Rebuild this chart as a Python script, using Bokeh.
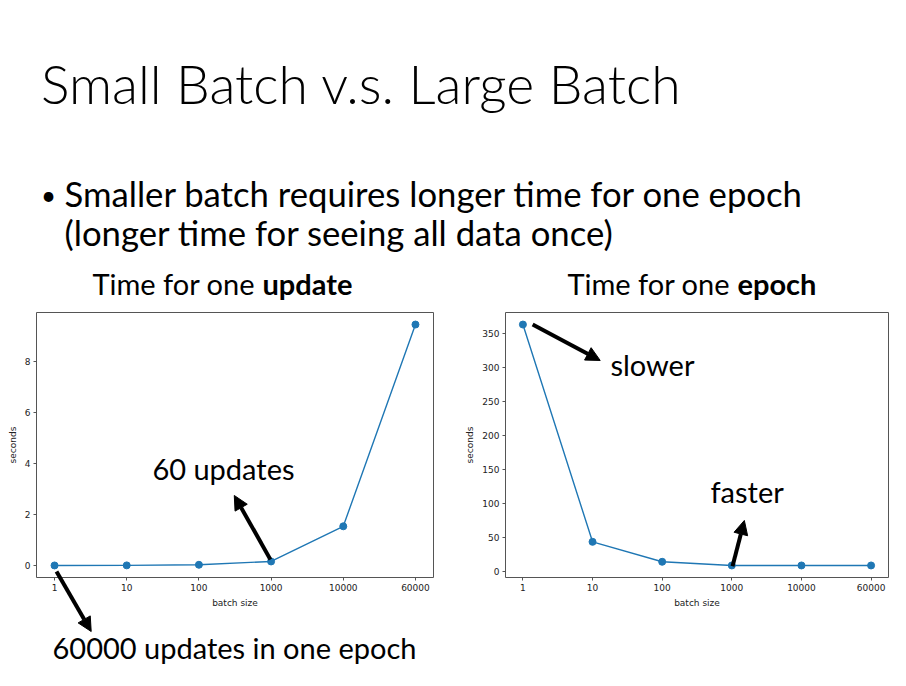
from bokeh.plotting import figure
from bokeh.models import Range1d, FixedTicker, Label, Arrow, NormalHead, GridBox
from bokeh.embed import file_html
from bokeh.resources import INLINE

# ---------------- data ----------------
title_text = "Small Batch v.s. Large Batch"
bullet_lines = ["Smaller batch requires longer time for one epoch",
                "(longer time for seeing all data once)"]
batch_sizes = ["1", "10", "100", "1000", "10000", "60000"]
update_seconds = [0.003, 0.006, 0.03, 0.16, 1.54, 9.46]
epoch_seconds = [363.7, 43.6, 14.2, 8.8, 8.8, 8.8]
update_ticks = [0, 2, 4, 6, 8]
epoch_ticks = [0, 50, 100, 150, 200, 250, 300, 350]

SLIDE_FONT = "Lato"
TICK_FONT = "DejaVu Sans"
BLUE = "#1f77b4"
FRAME = "#555555"
TXT = "#222222"
PAGE_W, PAGE_H = 906, 686
BASE_SHIFT = 0.41  # alphabetic-baseline correction (em)

# ---------------- charts ----------------
def make_chart(values, yticks, width, bl, br):
    n = len(batch_sizes)
    xs = list(range(n))
    xpad = 0.05 * (n - 1)
    lo, hi = min(values), max(values)
    ypad = 0.05 * (hi - lo)
    p = figure(width=width, height=PAGE_H,
               x_range=Range1d(-xpad, n - 1 + xpad), y_range=Range1d(lo - ypad, hi + ypad),
               output_backend="svg", toolbar_location=None,
               min_border_left=bl, min_border_right=br, min_border_top=312, min_border_bottom=109)
    p.frame_align = False
    p.grid.visible = False
    p.outline_line_color = FRAME
    p.outline_line_width = 1
    p.line(xs, values, line_color=BLUE, line_width=1.4)
    p.scatter(xs, values, size=7, fill_color=BLUE, line_color=BLUE)
    p.xaxis.ticker = FixedTicker(ticks=xs)
    p.xaxis.major_label_overrides = {i: s for i, s in enumerate(batch_sizes)}
    p.yaxis.ticker = FixedTicker(ticks=yticks)
    p.xaxis.axis_label = "batch size"
    p.yaxis.axis_label = "seconds"
    for ax in (p.xaxis[0], p.yaxis[0]):
        ax.axis_line_color = None
        ax.major_tick_in = 0
        ax.major_tick_out = 3
        ax.major_tick_line_color = FRAME
        ax.minor_tick_line_color = None
        ax.major_label_text_font = TICK_FONT
        ax.major_label_text_font_size = "9px"
        ax.major_label_text_color = TXT
        ax.axis_label_text_font = TICK_FONT
        ax.axis_label_text_font_size = "9px"
        ax.axis_label_text_font_style = "normal"
        ax.axis_label_text_color = TXT
        ax.major_label_standoff = 3
        ax.axis_label_standoff = 4
    return p

def arrow(p, x0, y0, x1, y1):
    p.add_layout(Arrow(end=NormalHead(size=14, fill_color="black", line_color="black", line_width=1),
                       x_start=x0, y_start=y0, x_end=x1, y_end=y1,
                       line_color="black", line_width=4))

def dlabel(p, x, y, text, size="29px", align="center"):
    p.add_layout(Label(x=x, y=y, text=text, text_font=SLIDE_FONT, text_font_size=size,
                       text_color="black", text_align=align, text_baseline="alphabetic"))

left = make_chart(update_seconds, update_ticks, 462, 36, 29)
right = make_chart(epoch_seconds, epoch_ticks, 444, 41, 18)

# in-frame annotations (data coordinates)
arrow(left, 2.99, 0.24, 2.49, 2.75)
dlabel(left, 2.34, 3.81, "60 updates")
arrow(right, 0.14, 363.8, 1.11, 310.8)
dlabel(right, 1.86, 304.9, "slower")
arrow(right, 3.01, 7.7, 3.18, 75.1)
dlabel(right, 3.22, 117.4, "faster")

# ---------------- transparent overlay for slide text ----------------
overlay = figure(width=PAGE_W, height=PAGE_H, x_range=Range1d(0, PAGE_W), y_range=Range1d(PAGE_H, 0),
                 output_backend="svg", toolbar_location=None, min_border=0,
                 x_axis_location=None, y_axis_location=None)
overlay.frame_align = False
overlay.grid.visible = False
overlay.outline_line_color = None
overlay.background_fill_color = None
overlay.border_fill_color = None

def olabel(x, baseline, text, fs, style="normal", align="left", font=SLIDE_FONT):
    overlay.add_layout(Label(x=x, y=baseline - BASE_SHIFT * fs, text=text,
                             text_font=font, text_font_size=f"{fs}px", text_font_style=style,
                             text_color="black", text_align=align, text_baseline="alphabetic"))

olabel(40.5, 104.3, title_text, 53.5, font="Lato Light")
olabel(40.5, 205.5, "\u2022", 26)
olabel(64, 207.5, bullet_lines[0], 34.7)
olabel(64, 246.5, bullet_lines[1], 34.7)

olabel(262, 294.5, "Time for one ", 29, align="right")
olabel(262, 294.5, "update", 29, style="bold")
olabel(737, 294.5, "Time for one ", 29, align="right")
olabel(737, 294.5, "epoch", 29, style="bold")

olabel(234, 659.3, "60000 updates in one epoch", 29, align="center")
overlay.add_layout(Arrow(end=NormalHead(size=14, fill_color="black", line_color="black", line_width=1),
                         x_start=56, y_start=571, x_end=90.7, y_end=631,
                         line_color="black", line_width=4))

page = GridBox(children=[(left, 0, 0), (right, 0, 1), (overlay, 0, 0, 1, 2)], spacing=0)
open("out.html", "w").write(file_html(page, INLINE))
